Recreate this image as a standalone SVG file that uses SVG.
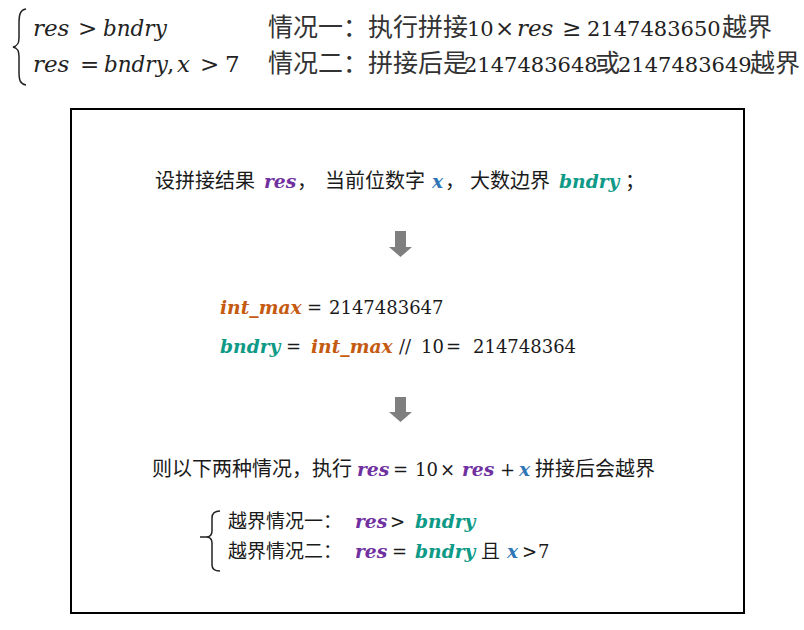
<svg xmlns="http://www.w3.org/2000/svg" width="804" height="630" viewBox="0 0 804 630">
<style>
.mi{font-family:"DejaVu Serif",serif;font-style:italic;font-size:23px;fill:#222}
.mb{font-family:"DejaVu Serif",serif;font-style:italic;font-size:21.5px;fill:#222}
.op{font-family:"DejaVu Serif",serif;font-style:normal;font-size:23px;fill:#222}
.dg{font-family:"DejaVu Serif",serif;font-style:normal;font-size:21px;fill:#222}
.cs{font-family:"Noto Sans CJK SC","Noto Sans CJK JP",sans-serif;font-size:25px;fill:#333}
.zh{font-family:"Noto Sans CJK SC","Noto Sans CJK JP",sans-serif;font-size:20px;fill:#1a1a1a}
.zh19{font-family:"Noto Sans CJK SC","Noto Sans CJK JP",sans-serif;font-size:19px;fill:#1a1a1a}
.bi{font-family:"DejaVu Serif",serif;font-style:italic;font-weight:bold;font-size:18.7px}
.nm{font-family:"DejaVu Serif",serif;font-size:18px;fill:#1a1a1a}
.res{fill:#7030a0}.x{fill:#2e75b6}.bd{fill:#0f9a88}.im{fill:#c55a11}
.arrow{fill:#7f7f7f}
.brace{fill:none;stroke:#222;stroke-width:1.5}
</style>
<g id="top-formula">
<path class="brace" d="M26,9 C20,10 19,15 19,23 L19,38 C19,44 17,46 13,47 C17,48 19,50 19,56 L19,72 C19,80 20,84 26,85"/>
<text class="mi" y="36"><tspan x="33">res</tspan><tspan class="op" x="78">&gt;</tspan><tspan class="mb" x="103">bndry</tspan></text>
<text class="cs" y="36"><tspan class="dg" x="467">10</tspan><tspan class="op" x="495">×</tspan><tspan class="mi" x="517">res</tspan><tspan class="op" x="562">≥</tspan><tspan class="dg" x="587">2147483650</tspan><tspan x="722">越界</tspan></text>
<text class="cs" y="36"><tspan x="268">情况一：执行拼接</tspan></text>
<text class="mi" y="72"><tspan x="33">res</tspan><tspan class="op" x="80">=</tspan><tspan class="mb" x="104">bndry</tspan><tspan class="op" x="167">,</tspan><tspan x="177">x</tspan><tspan class="op" x="200">&gt;</tspan><tspan class="op" x="225">7</tspan></text>
<text class="cs" y="72"><tspan x="268">情况二：拼接后是</tspan><tspan class="dg" x="464">2147483648</tspan><tspan x="595">或</tspan><tspan class="dg" x="618">2147483649</tspan><tspan x="750">越界</tspan></text>
</g>
<g id="box">
<rect x="71" y="109" width="673" height="504" fill="#fff" stroke="#000" stroke-width="2"/>
</g>
<g id="step1">
<text class="zh" y="188"><tspan x="155">设拼接结果</tspan><tspan class="bi res" x="264">res</tspan><tspan x="297">，</tspan><tspan x="325">当前位数字</tspan><tspan class="bi x" x="432">x</tspan><tspan x="445">，</tspan><tspan x="470">大数边界</tspan><tspan class="bi bd" x="559">bndry</tspan><tspan x="625">；</tspan></text>
</g>
<g id="connectors">
<polygon class="arrow" points="395,231 406,231 406,247 412,247 400.5,257 389,247 395,247"/>
<polygon class="arrow" points="395,397 406,397 406,412 412,412 400.5,422 389,412 395,412"/>
</g>
<g id="step2">
<text class="nm" y="314"><tspan class="bi im" x="220">int_max</tspan><tspan x="307">=</tspan><tspan x="329">2147483647</tspan></text>
<text class="nm" y="353"><tspan class="bi bd" x="220">bndry</tspan><tspan x="286">=</tspan><tspan class="bi im" x="311">int_max</tspan><tspan x="399">//</tspan><tspan x="421">10</tspan><tspan x="446">=</tspan><tspan x="473">214748364</tspan></text>
</g>
<g id="step3">
<text class="zh" y="476"><tspan x="152">则以下两种情况，执行</tspan><tspan class="bi res" x="357">res</tspan><tspan class="nm" x="393">=</tspan><tspan class="nm" x="415">10</tspan><tspan class="nm" x="440">×</tspan><tspan class="bi res" x="462">res</tspan><tspan class="nm" x="500">+</tspan><tspan class="bi x" x="519">x</tspan><tspan x="535">拼接后会越界</tspan></text>
</g>
<g id="cases">
<path class="brace" d="M220,511 Q212,511 212,518 L212,531 Q212,537 206,537 L200,537 M206,537 Q212,537 212,543 L212,565 Q212,571 220,571"/>
<text class="zh19" y="528"><tspan x="228">越界情况一：</tspan><tspan class="bi res" x="355">res</tspan><tspan class="nm" x="390">&gt;</tspan><tspan class="bi bd" x="415">bndry</tspan></text>
<text class="zh19" y="558"><tspan x="228">越界情况二：</tspan><tspan class="bi res" x="355">res</tspan><tspan class="nm" x="392">=</tspan><tspan class="bi bd" x="415">bndry</tspan><tspan x="481">且</tspan><tspan class="bi x" x="507">x</tspan><tspan class="nm" x="522">&gt;</tspan><tspan class="nm" x="538">7</tspan></text>
</g>
</svg>
